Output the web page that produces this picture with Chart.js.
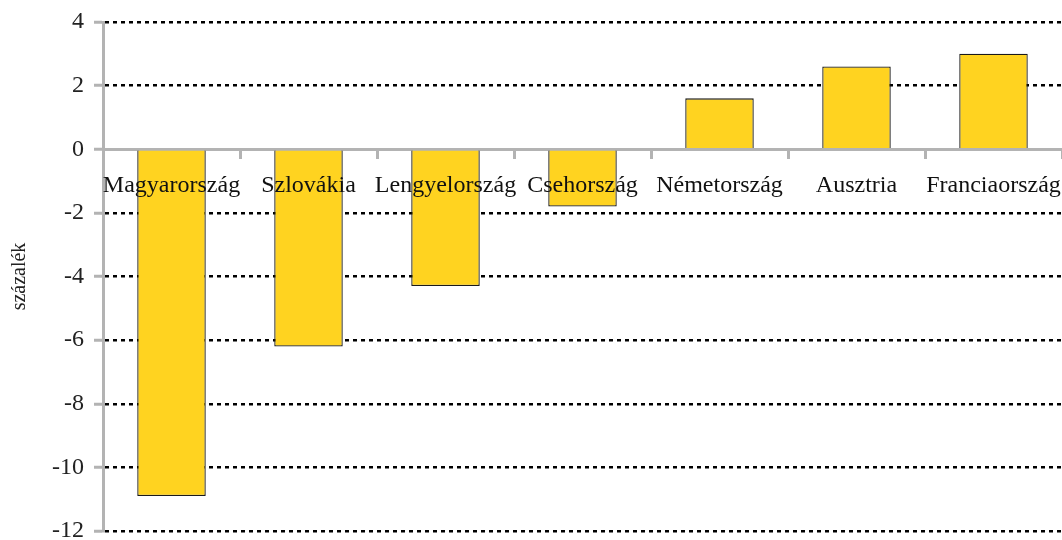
<!DOCTYPE html>
<html lang="hu">
<head>
<meta charset="utf-8">
<title>százalék</title>
<script src="https://cdn.jsdelivr.net/npm/chart.js@4/dist/chart.umd.min.js"></script>
<style>
    html, body { margin: 0; padding: 0; background: #fff; }
    #wrap { width: 1062px; height: 540px; }
</style>
</head>
<body>
<div id="wrap"><canvas id="chart" width="1062" height="540"></canvas></div>
<script>
// Adatok
const categories = ['Magyarország', 'Szlovákia', 'Lengyelország', 'Csehország', 'Németország', 'Ausztria', 'Franciaország'];
const values = [-10.9, -6.2, -4.3, -1.8, 1.6, 2.6, 3.0];
const yMin = -12;
const yMax = 4;
const yStep = 2;
const yTitle = 'százalék';

const serif = '"Liberation Serif", "DejaVu Serif", serif';
const axisGrey = '#b3b3b3';

const ctx = document.getElementById('chart').getContext('2d');

new Chart(ctx, {
    type: 'bar',
    data: {
        labels: categories,
        datasets: [{
            data: values,
            backgroundColor: '#ffd320',
            borderColor: '#1a1a1a',
            borderWidth: 1.3,
            barPercentage: 0.5,
            categoryPercentage: 1
        }]
    },
    options: {
        responsive: false,
        animation: false,
        layout: { padding: { top: 22, right: 0, bottom: 9, left: 0 } },
        plugins: {
            legend: { display: false },
            tooltip: { enabled: false }
        },
        scales: {
            x: {
                position: { y: 0 },
                afterFit: (scale) => { scale.paddingLeft = 0; scale.paddingRight = 0; },
                grid: {
                    offset: true,
                    drawOnChartArea: false,
                    drawTicks: true,
                    tickLength: 8,
                    tickColor: axisGrey,
                    tickWidth: 3
                },
                border: { color: axisGrey, width: 3 },
                ticks: {
                    z: 1,
                    color: '#111',
                    padding: 14,
                    maxRotation: 0,
                    autoSkip: false,
                    font: { family: serif, size: 24 }
                }
            },
            y: {
                min: yMin,
                max: yMax,
                afterFit: (scale) => {
                    scale.width = 103;
                    scale.paddingTop = 0;
                    scale.paddingBottom = 0;
                },
                title: {
                    display: true,
                    text: yTitle,
                    color: '#222',
                    padding: { top: 8, bottom: 10 },
                    font: { family: serif, size: 20 }
                },
                grid: {
                    color: (c) => (c.tick && c.tick.value === 0) ? 'rgba(0,0,0,0)' : '#000',
                    lineWidth: 2.5,
                    drawTicks: true,
                    tickLength: 9,
                    tickColor: axisGrey,
                    tickWidth: 3,
                    tickBorderDash: []
                },
                border: { color: axisGrey, width: 3, dash: [4, 4] },
                ticks: {
                    stepSize: yStep,
                    color: '#222',
                    padding: 10,
                    font: { family: serif, size: 24 }
                }
            }
        }
    }
});
</script>
</body>
</html>
